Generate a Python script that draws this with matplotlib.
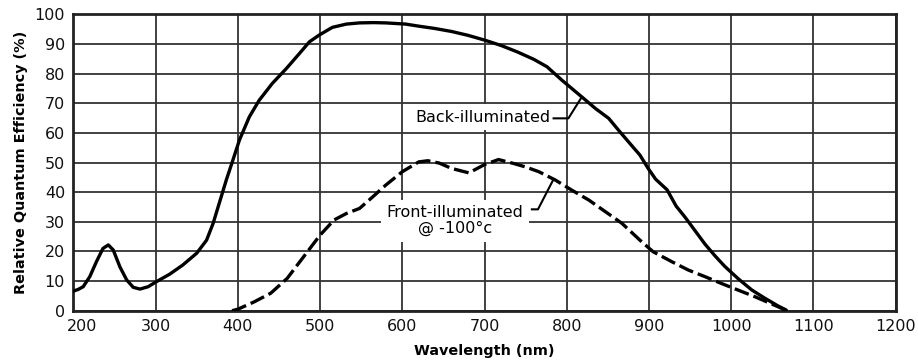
import matplotlib
matplotlib.use("Agg")
import matplotlib.pyplot as plt
from matplotlib.transforms import ScaledTranslation

# Back-illuminated (solid)
back_wl = [200, 206, 212, 220, 228, 236, 242.5, 248.5, 256.6, 264.8, 272.8, 281, 291, 301, 317,
           333, 350, 362, 370, 378, 386, 394, 402, 414, 426, 442, 459, 475, 487, 499,
           515, 532, 548, 565, 580, 604, 620, 640, 660, 680, 700, 720, 740, 760, 776,
           794, 818, 835, 851, 863, 875, 889, 899, 908, 922, 933, 944, 956, 968, 980,
           992, 1008, 1025, 1041, 1057, 1067]
back_qe = [6.6, 7.2, 8.1, 11.5, 16.5, 21.0, 22.2, 20.5, 14.8, 10.4, 7.9, 7.3, 8.1, 9.8, 12.3,
           15.4, 19.4, 23.8, 29.5, 36.8, 44.1, 50.8, 57.6, 65.4, 71.0, 76.7, 81.7, 86.8, 90.7, 93.0,
           95.6, 96.7, 97.1, 97.2, 97.1, 96.7, 96.0, 95.2, 94.2, 92.9, 91.3, 89.5, 87.3, 84.8, 82.3,
           77.8, 72.2, 68.2, 64.9, 60.9, 57.0, 52.5, 48.0, 44.4, 40.8, 35.3, 31.5, 27.0, 22.5, 18.6,
           15.0, 10.9, 7.0, 4.2, 1.6, 0.2]

# Front-illuminated @ -100°C (dashed)
front_wl = [393, 400, 420, 440, 460, 480, 500, 517, 532, 548, 564, 580, 600, 620, 631,
            645, 660, 681, 700, 717, 735, 750, 766, 786, 806, 827, 847, 867, 889, 905,
            928, 948, 968, 988, 1008, 1029, 1049, 1068]
front_qe = [0.0, 0.5, 3.0, 5.9, 10.9, 18.2, 25.5, 30.6, 32.8, 34.5, 38.4, 42.4, 46.9, 50.2, 50.6,
            49.8, 48.0, 46.5, 49.3, 51.0, 49.7, 48.5, 46.9, 44.1, 40.7, 37.3, 33.4, 29.5, 23.8, 19.9,
            16.5, 13.7, 11.5, 9.2, 7.0, 4.7, 2.3, 0.0]

xticks = [200, 300, 400, 500, 600, 700, 800, 900, 1000, 1100, 1200]
yticks = [0, 10, 20, 30, 40, 50, 60, 70, 80, 90, 100]

fig = plt.figure(figsize=(9.18, 3.64), dpi=100)
ax = fig.add_axes([0.0799, 0.1464, 0.9757 - 0.0799, 0.9607 - 0.1464])

ax.set_xlim(200, 1200)
ax.set_ylim(0, 100)
ax.set_xticks(xticks)
ax.set_yticks(yticks)
ax.tick_params(length=0, labelsize=11.5, pad=6, colors='#111111')
ax.grid(True, color='#333333', linewidth=1.3)
ax.set_axisbelow(True)
for s in ax.spines.values():
    s.set_linewidth(2.0)
    s.set_color('#222222')

ax.plot(back_wl, back_qe, color='black', linewidth=2.4, solid_joinstyle='round',
        solid_capstyle='round', zorder=3)
ax.plot(front_wl, front_qe, color='black', linewidth=2.4, dashes=(4.5, 1.5), zorder=3)

ax.set_xlabel('Wavelength (nm)', fontsize=10.4, fontweight='bold', labelpad=7)
ax.set_ylabel('Relative Quantum Efficiency (%)', fontsize=10.4, fontweight='bold', labelpad=5)

# shift first x tick label a bit right (as in reference)
lbl = ax.get_xticklabels()[0]
lbl.set_transform(lbl.get_transform() + ScaledTranslation(9 / 100, 0, fig.dpi_scale_trans))

# Annotations
ax.text(616, 65.3, 'Back-illuminated', fontsize=11.5, ha='left', va='center', zorder=4,
        bbox=dict(facecolor='white', edgecolor='none', pad=4))
ax.plot([784, 802, 818.5], [64.9, 64.9, 72.2], color='black', linewidth=1.5, zorder=4)

ax.text(664, 30.3, 'Front-illuminated\n@ -100°c', fontsize=11.5, ha='center', va='center',
        linespacing=1.05, zorder=4, bbox=dict(facecolor='white', edgecolor='none', pad=4))
ax.plot([757.6, 765, 784], [34.2, 34.2, 44.4], color='black', linewidth=1.5, zorder=4)

fig.savefig('out.png', dpi=100)
